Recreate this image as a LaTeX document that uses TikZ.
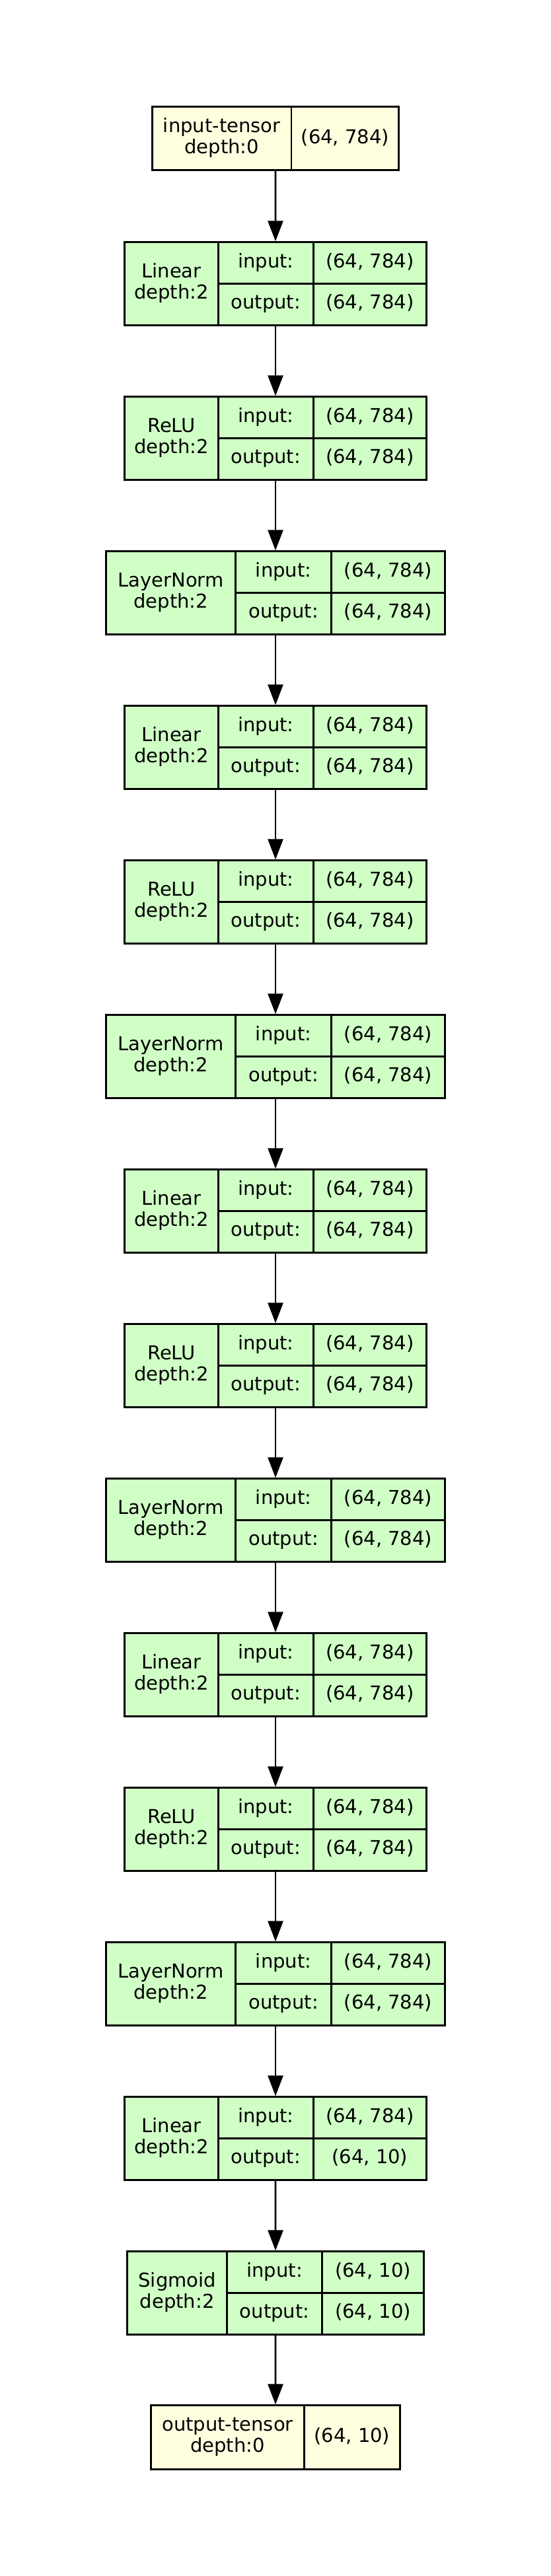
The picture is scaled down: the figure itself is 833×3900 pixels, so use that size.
\documentclass[tikz,border=0pt]{standalone}
\usepackage{fontspec}
\setmainfont{DejaVu Sans}
\usetikzlibrary{arrows.meta}
\definecolor{tensorfill}{HTML}{FFFFE0}
\definecolor{layerfill}{RGB}{208,255,198}
\tikzset{
  boxline/.style={draw=black, line width=2.8pt},
  layerbox/.style={boxline, fill=layerfill, rectangle, minimum height=125.5pt, inner sep=0pt},
  tensorbox/.style={boxline, fill=tensorfill, rectangle, inner sep=0pt},
  divline/.style={line width=2.8pt, draw=black},
  txt/.style={inner sep=0pt, anchor=base, font=\fontsize{29}{31.7}\selectfont},
  flow/.style={line width=2.7pt, -{Triangle[length=31pt,width=23pt]}},
}
% name, top, x0, w1, w2, w3, title, in, out
\newcommand\lyr[9]{%
  \pgfmathsetmacro\xa{#3}\pgfmathsetmacro\xb{#3+#4}%
  \pgfmathsetmacro\xc{#3+#4+#5}\pgfmathsetmacro\xd{#3+#4+#5+#6}%
  \node[layerbox, minimum width={(#4+#5+#6)*1pt}] (#1) at ({(\xa+\xd)/2},{#2+62.75}) {};
  \draw[divline] (\xb,#2) -- (\xb,#2+125.5) (\xc,#2) -- (\xc,#2+125.5) (\xb,#2+63) -- (\xd,#2+63);
  \node[txt] (#1-name) at ({(\xa+\xb)/2},{#2+54}) {#7};
  \node[txt] (#1-depth) at ({(\xa+\xb)/2},{#2+85.6}) {depth:2};
  \node[txt] (#1-inl) at ({(\xb+\xc)/2},{#2+38.5}) {input:};
  \node[txt] (#1-outl) at ({(\xb+\xc)/2},{#2+100.5}) {output:};
  \node[txt] (#1-inv) at ({(\xc+\xd)/2},{#2+38.5}) {#8};
  \node[txt] (#1-outv) at ({(\xc+\xd)/2},{#2+100.5}) {#9};
}
% name, top, height, x0, w1, w2, title, value
\newcommand\tns[8]{%
  \pgfmathsetmacro\xa{#4}\pgfmathsetmacro\xb{#4+#5}\pgfmathsetmacro\xd{#4+#5+#6}%
  \node[tensorbox, minimum width={(#5+#6)*1pt}, minimum height={#3*1pt}] (#1) at ({(\xa+\xd)/2},{#2+#3/2}) {};
  \draw[divline] (\xb,#2) -- (\xb,#2+#3);
  \node[txt] (#1-name) at ({(\xa+\xb)/2},{#2+38.6}) {#7};
  \node[txt] (#1-depth) at ({(\xa+\xb)/2},{#2+70.3}) {depth:0};
  \node[txt] (#1-val) at ({(\xb+\xd)/2},{#2+56}) {#8};
}
\begin{document}
\begin{tikzpicture}[x=1pt,y=-1pt]
  \fill[white] (0,0) rectangle (833,3900);
  \useasboundingbox (0,0) rectangle (833,3900);
  \tns{in}{161.7}{95.6}{230.35}{210.7}{162.6}{input-tensor}{(64, 784)}
  \lyr{L1}{366.7}{188.65}{141.7}{144}{171}{Linear}{(64, 784)}{(64, 784)}
  \lyr{L2}{600.7}{188.65}{141.7}{144}{171}{ReLU}{(64, 784)}{(64, 784)}
  \lyr{L3}{834.7}{160.65}{196}{145}{171.7}{LayerNorm}{(64, 784)}{(64, 784)}
  \lyr{L4}{1068.7}{188.65}{141.7}{144}{171}{Linear}{(64, 784)}{(64, 784)}
  \lyr{L5}{1302.7}{188.65}{141.7}{144}{171}{ReLU}{(64, 784)}{(64, 784)}
  \lyr{L6}{1536.7}{160.65}{196}{145}{171.7}{LayerNorm}{(64, 784)}{(64, 784)}
  \lyr{L7}{1770.7}{188.65}{141.7}{144}{171}{Linear}{(64, 784)}{(64, 784)}
  \lyr{L8}{2004.7}{188.65}{141.7}{144}{171}{ReLU}{(64, 784)}{(64, 784)}
  \lyr{L9}{2238.7}{160.65}{196}{145}{171.7}{LayerNorm}{(64, 784)}{(64, 784)}
  \lyr{L10}{2472.7}{188.65}{141.7}{144}{171}{Linear}{(64, 784)}{(64, 784)}
  \lyr{L11}{2706.7}{188.65}{141.7}{144}{171}{ReLU}{(64, 784)}{(64, 784)}
  \lyr{L12}{2940.7}{160.65}{196}{145}{171.7}{LayerNorm}{(64, 784)}{(64, 784)}
  \lyr{L13}{3174.7}{188.65}{141.7}{144}{171}{Linear}{(64, 784)}{(64, 10)}
  \lyr{L14}{3408.7}{192.85}{150.7}{144.3}{153.3}{Sigmoid}{(64, 10)}{(64, 10)}
  \tns{out}{3641.7}{96.6}{228.65}{231.7}{145}{output-tensor}{(64, 10)}
  \foreach \a/\b in {in/L1,L1/L2,L2/L3,L3/L4,L4/L5,L5/L6,L6/L7,L7/L8,L8/L9,L9/L10,L10/L11,L11/L12,L12/L13,L13/L14,L14/out}
    \draw[flow] (\a.south) -- (\b.north);
\end{tikzpicture}
\end{document}
